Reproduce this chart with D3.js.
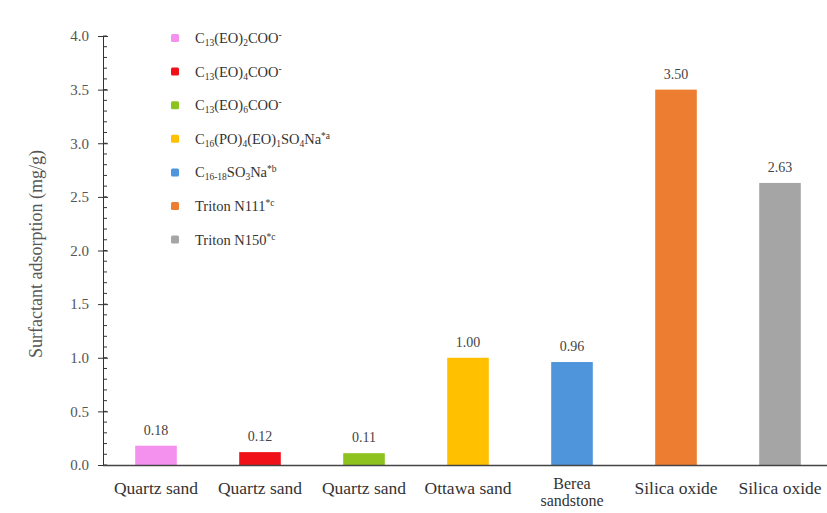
<!DOCTYPE html>
<html><head><meta charset="utf-8">
<script src="https://cdn.jsdelivr.net/npm/d3@7"></script>
<style>body{margin:0;background:#fff}svg{display:block}
svg text{font-family:"Liberation Serif","Times New Roman",serif !important;}</style>
</head><body>
<script>
const categories = ["Quartz sand","Quartz sand","Quartz sand","Ottawa sand","Berea\nsandstone","Silica oxide","Silica oxide"];
const values = [0.18, 0.12, 0.11, 1.00, 0.96, 3.50, 2.63];
const valueLabels = ["0.18","0.12","0.11","1.00","0.96","3.50","2.63"];
const colors = ["#F490EE","#F01018","#8DC21F","#FFC000","#4E95DB","#ED7D31","#A5A5A5"];
// legend entries: array of [text, style] where style: n normal, b sub, p sup
const legendItems = [
  [["C","n"],["13","b"],["(EO)","n"],["2","b"],["COO","n"],["-","p"]],
  [["C","n"],["13","b"],["(EO)","n"],["4","b"],["COO","n"],["-","p"]],
  [["C","n"],["13","b"],["(EO)","n"],["6","b"],["COO","n"],["-","p"]],
  [["C","n"],["16","b"],["(PO)","n"],["4","b"],["(EO)","n"],["1","b"],["SO","n"],["4","b"],["Na","n"],["*a","p"]],
  [["C","n"],["16-18","b"],["SO","n"],["3","b"],["Na","n"],["*b","p"]],
  [["Triton N111","n"],["*c","p"]],
  [["Triton N150","n"],["*c","p"]]
];
const yTicks = [0,0.5,1.0,1.5,2.0,2.5,3.0,3.5,4.0];
const yLabel = "Surfactant adsorption (mg/g)";

const W=827,H=513;
const svg=d3.select("body").append("svg").attr("width",W).attr("height",H);
const x=d3.scaleBand().domain(d3.range(categories.length)).range([104,832]).paddingInner(0.6).paddingOuter(0.3);
const y=d3.scaleLinear().domain([0,4]).range([465,36]);

// minor ticks
const minor=d3.range(0,4.0001,0.1);
svg.append("g").selectAll("line").data(minor).join("line")
  .attr("x1",103).attr("x2",107).attr("y1",d=>y(d)).attr("y2",d=>y(d))
  .attr("stroke","#333").attr("stroke-width",1);

const yAxis=svg.append("g").attr("transform","translate(103,0)")
  .call(d3.axisLeft(y).tickValues(yTicks).tickFormat(d3.format(".1f")).tickSize(5).tickPadding(9));
yAxis.select(".domain").attr("stroke","#333");
yAxis.selectAll(".tick line").attr("stroke","#333").attr("x2",-5).attr("x1",5);
yAxis.selectAll("text").attr("font-size",15).attr("fill","#555");

// bars
svg.append("g").selectAll("rect").data(values).join("rect")
  .attr("x",(d,i)=>x(i)).attr("width",x.bandwidth())
  .attr("y",d=>y(d)).attr("height",d=>y(0)-y(d))
  .attr("fill",(d,i)=>colors[i]);

// value labels
svg.append("g").selectAll("text").data(values).join("text")
  .attr("x",(d,i)=>x(i)+x.bandwidth()/2).attr("y",d=>y(d)-11)
  .attr("text-anchor","middle").attr("font-size",14).attr("fill","#444")
  .text((d,i)=>valueLabels[i]);

// x axis line
svg.append("line").attr("x1",103).attr("x2",827).attr("y1",465.5).attr("y2",465.5)
  .attr("stroke","#444").attr("stroke-width",1.5);

// category labels
const cl=svg.append("g").selectAll("text").data(categories).join("text")
  .attr("x",(d,i)=>x(i)+x.bandwidth()/2)
  .attr("y",d=>d.includes("\n")?489:494)
  .attr("text-anchor","middle").attr("font-size",d=>d.includes("\n")?16:17.5).attr("fill","#333");
cl.each(function(d,i){
  const t=d3.select(this); const parts=d.split("\n");
  parts.forEach((p,j)=>t.append("tspan").attr("x",x(i)+x.bandwidth()/2).attr("dy",j?17:0).text(p));
});

// y label
svg.append("text").attr("transform","translate(42,254) rotate(-90)")
  .attr("text-anchor","middle").attr("font-size",18).attr("fill","#555").text(yLabel);

// legend
const lg=svg.append("g");
legendItems.forEach((item,i)=>{
  const yy=38+i*33.6;
  lg.append("rect").attr("x",171).attr("y",yy-4).attr("width",8).attr("height",8).attr("rx",1.5)
    .attr("fill",colors[i]);
  const t=lg.append("text").attr("x",195).attr("y",yy+5).attr("font-size",14.5).attr("fill","#333");
  item.forEach(([s,st])=>{
    const ts=t.append("tspan").text(s);
    if(st==="b") ts.attr("font-size",9.5).attr("baseline-shift","-3");
    if(st==="p") ts.attr("font-size",9.5).attr("baseline-shift","5");
  });
});
</script>
</body></html>
